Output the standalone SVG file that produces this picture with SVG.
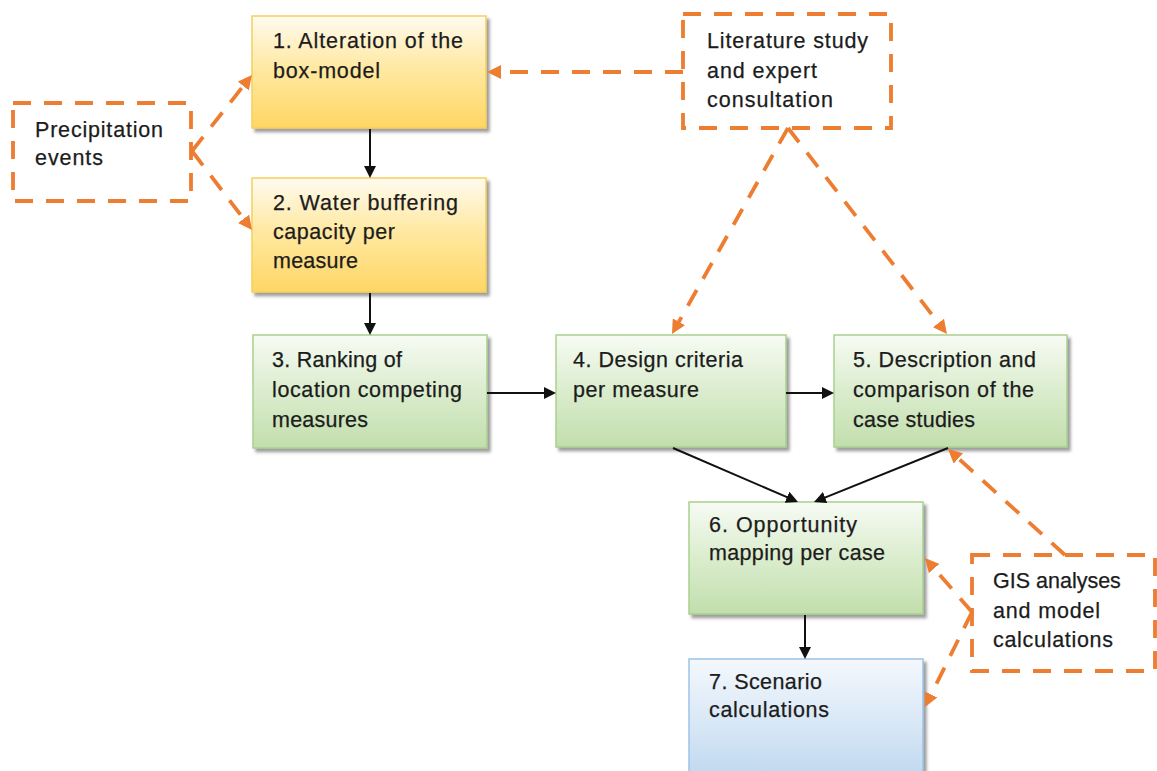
<svg xmlns="http://www.w3.org/2000/svg" width="1157" height="771" viewBox="0 0 1157 771">
  <style>
    .lbl { font-family: "Liberation Sans", Arial, sans-serif; font-size: 21.5px; fill: #1c1c1c; stroke: #1c1c1c; stroke-width: 0.25; }
    .box { stroke-width: 1.5; filter: url(#shadow); }
    .yellow { fill: url(#gYellow); stroke: #f7cf5c; }
    .green { fill: url(#gGreen); stroke: #a9d18e; }
    .blue { fill: url(#gBlue); stroke: #9dc3e6; }
    .dashbox { fill: #ffffff; stroke: #ed7d31; stroke-width: 3.8; stroke-dasharray: 18 13; }
    .dash { fill: none; stroke: #ed7d31; stroke-width: 3.8; stroke-dasharray: 18 13; marker-end: url(#headOrange); }
    .solid { fill: none; stroke: #111111; stroke-width: 2; marker-end: url(#headBlack); }
  </style>
  <defs>
    <linearGradient id="gYellow" x1="0" y1="0" x2="0" y2="1">
      <stop offset="0" stop-color="#fffbf0"/>
      <stop offset="0.45" stop-color="#ffe9a4"/>
      <stop offset="1" stop-color="#fed664"/>
    </linearGradient>
    <linearGradient id="gGreen" x1="0" y1="0" x2="0" y2="1">
      <stop offset="0" stop-color="#f7fbf4"/>
      <stop offset="0.45" stop-color="#ddeed1"/>
      <stop offset="1" stop-color="#c2deac"/>
    </linearGradient>
    <linearGradient id="gBlue" x1="0" y1="0" x2="0" y2="1">
      <stop offset="0" stop-color="#f4f8fd"/>
      <stop offset="0.5" stop-color="#d9e8f6"/>
      <stop offset="1" stop-color="#bcd6ee"/>
    </linearGradient>
    <filter id="shadow" x="-5%" y="-5%" width="115%" height="120%">
      <feDropShadow dx="3" dy="3.5" stdDeviation="1.4" flood-color="#6b6b6b" flood-opacity="0.65"/>
    </filter>
    <marker id="headOrange" viewBox="0 0 12 12" markerWidth="14" markerHeight="14" refX="5.14" refY="6" orient="auto" markerUnits="userSpaceOnUse">
      <path d="M0,0 L12,6 L0,12 z" fill="#ed7d31"/>
    </marker>
    <marker id="headBlack" viewBox="0 0 10 10" markerWidth="12" markerHeight="12" refX="4.17" refY="5" orient="auto" markerUnits="userSpaceOnUse">
      <path d="M0,0 L10,5 L0,10 z" fill="#111111"/>
    </marker>
  </defs>

  <rect x="0" y="0" width="1157" height="771" fill="#ffffff"/>

  <!-- process steps -->
  <g id="step1">
    <rect class="box yellow" x="252" y="16" width="234" height="112"/>
    <text class="lbl" x="273" y="48" textLength="190" lengthAdjust="spacing">1. Alteration of the</text>
    <text class="lbl" x="273" y="78" textLength="107" lengthAdjust="spacing">box-model</text>
  </g>
  <g id="step2">
    <rect class="box yellow" x="252" y="178" width="234" height="114"/>
    <text class="lbl" x="273" y="210" textLength="185" lengthAdjust="spacing">2. Water buffering</text>
    <text class="lbl" x="273" y="239" textLength="122" lengthAdjust="spacing">capacity per</text>
    <text class="lbl" x="273" y="268" textLength="85" lengthAdjust="spacing">measure</text>
  </g>
  <g id="step3">
    <rect class="box green" x="253" y="335" width="234" height="113"/>
    <text class="lbl" x="272" y="367" textLength="130" lengthAdjust="spacing">3. Ranking of</text>
    <text class="lbl" x="272" y="397" textLength="190" lengthAdjust="spacing">location competing</text>
    <text class="lbl" x="272" y="427" textLength="96" lengthAdjust="spacing">measures</text>
  </g>
  <g id="step4">
    <rect class="box green" x="556" y="335" width="230" height="112"/>
    <text class="lbl" x="573" y="367" textLength="170" lengthAdjust="spacing">4. Design criteria</text>
    <text class="lbl" x="573" y="397" textLength="126" lengthAdjust="spacing">per measure</text>
  </g>
  <g id="step5">
    <rect class="box green" x="834" y="335" width="233" height="112"/>
    <text class="lbl" x="853" y="367" textLength="183" lengthAdjust="spacing">5. Description and</text>
    <text class="lbl" x="853" y="397" textLength="181" lengthAdjust="spacing">comparison of the</text>
    <text class="lbl" x="853" y="427" textLength="122" lengthAdjust="spacing">case studies</text>
  </g>
  <g id="step6">
    <rect class="box green" x="689" y="502" width="234" height="112"/>
    <text class="lbl" x="709" y="532" textLength="148" lengthAdjust="spacing">6. Opportunity</text>
    <text class="lbl" x="709" y="560" textLength="176" lengthAdjust="spacing">mapping per case</text>
  </g>
  <g id="step7">
    <rect class="box blue" x="689" y="659" width="234" height="125"/>
    <text class="lbl" x="709" y="689" textLength="113" lengthAdjust="spacing">7. Scenario</text>
    <text class="lbl" x="709" y="717" textLength="120" lengthAdjust="spacing">calculations</text>
  </g>

  <!-- inputs (dashed) -->
  <g id="precipitation">
    <rect class="dashbox" x="13" y="103" width="178" height="98"/>
    <text class="lbl" x="35" y="137" textLength="128" lengthAdjust="spacing">Precipitation</text>
    <text class="lbl" x="35" y="165" textLength="68" lengthAdjust="spacing">events</text>
  </g>
  <g id="literature">
    <rect class="dashbox" x="683" y="14" width="208" height="114"/>
    <text class="lbl" x="707" y="48" textLength="161" lengthAdjust="spacing">Literature study</text>
    <text class="lbl" x="707" y="78" textLength="110" lengthAdjust="spacing">and expert</text>
    <text class="lbl" x="707" y="107" textLength="126" lengthAdjust="spacing">consultation</text>
  </g>
  <g id="gis">
    <rect class="dashbox" x="972" y="555" width="183" height="116"/>
    <text class="lbl" x="993" y="588">GIS analyses</text>
    <text class="lbl" x="993" y="618" textLength="107" lengthAdjust="spacing">and model</text>
    <text class="lbl" x="993" y="647" textLength="120" lengthAdjust="spacing">calculations</text>
  </g>

  <!-- connectors -->
  <g id="connectors">
    <line class="solid" x1="370" y1="129" x2="370" y2="171"/>
    <line class="solid" x1="370" y1="293" x2="370" y2="328"/>
    <line class="solid" x1="487" y1="393" x2="549" y2="393"/>
    <line class="solid" x1="786" y1="393" x2="827" y2="393"/>
    <line class="solid" x1="673" y1="448" x2="791.6" y2="499.2"/>
    <line class="solid" x1="948" y1="448" x2="820.5" y2="499.4"/>
    <line class="solid" x1="805" y1="615" x2="805" y2="652"/>

    <line class="dash" x1="683" y1="72" x2="495" y2="72"/>
    <line class="dash" x1="788" y1="128" x2="675.9" y2="327"/>
    <line class="dash" x1="788" y1="128" x2="942.1" y2="327.7"/>
    <line class="dash" x1="192" y1="151" x2="247" y2="81.3"/>
    <line class="dash" x1="192" y1="151" x2="247.2" y2="223.6"/>
    <line class="dash" x1="1065" y1="555" x2="953.9" y2="454.4"/>
    <line class="dash" x1="972" y1="612" x2="930.2" y2="564"/>
    <line class="dash" x1="972" y1="612" x2="928.5" y2="699.8"/>
  </g>
</svg>
